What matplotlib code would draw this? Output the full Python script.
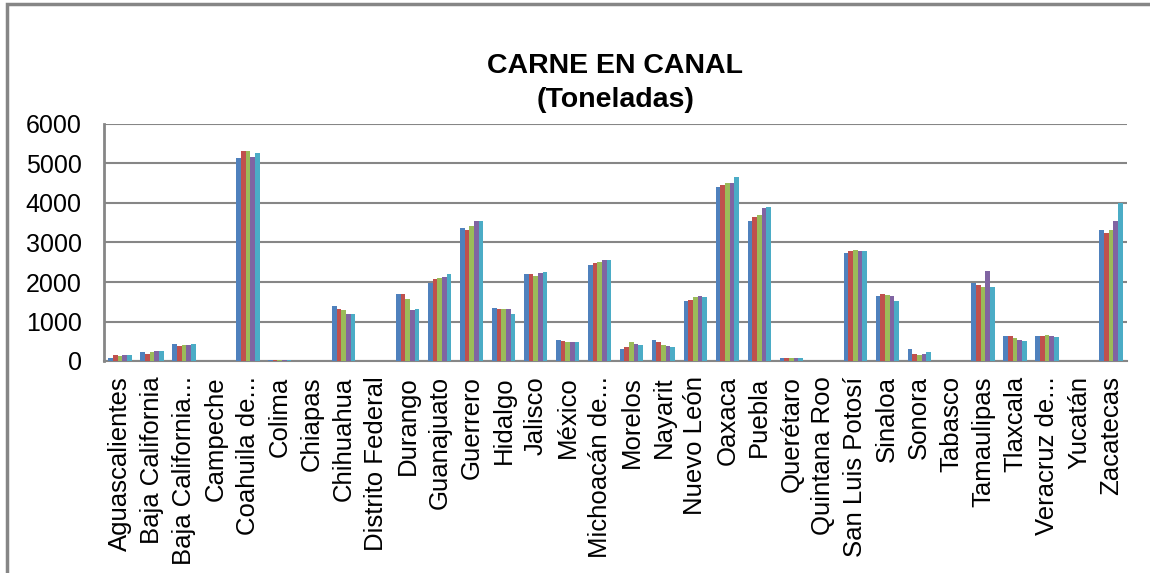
import matplotlib
matplotlib.use("Agg")
import matplotlib.pyplot as plt
import numpy as np

plt.rcParams["font.family"] = ["Liberation Sans", "DejaVu Sans"]

estados = [
    "Aguascalientes", "Baja California", "Baja California...", "Campeche",
    "Coahuila de...", "Colima", "Chiapas", "Chihuahua", "Distrito Federal",
    "Durango", "Guanajuato", "Guerrero", "Hidalgo", "Jalisco", "México",
    "Michoacán de...", "Morelos", "Nayarit", "Nuevo León", "Oaxaca", "Puebla",
    "Querétaro", "Quintana Roo", "San Luis Potosí", "Sinaloa", "Sonora",
    "Tabasco", "Tamaulipas", "Tlaxcala", "Veracruz de...", "Yucatán", "Zacatecas",
]

# five series (one per year)
serie1 = [70, 220, 425, 0, 5140, 20, 0, 1390, 0, 1690, 1970, 3365, 1335, 2200, 525,
          2425, 295, 525, 1515, 4405, 3540, 70, 0, 2730, 1640, 295, 0, 1970, 625, 625, 0, 3315]
serie2 = [145, 170, 370, 0, 5315, 20, 0, 1310, 0, 1690, 2070, 3315, 1310, 2200, 500,
          2475, 345, 475, 1540, 4455, 3645, 70, 0, 2780, 1690, 170, 0, 1920, 625, 625, 0, 3240]
serie3 = [120, 220, 395, 0, 5315, 20, 0, 1285, 0, 1565, 2095, 3415, 1310, 2150, 475,
          2500, 475, 395, 1615, 4505, 3695, 70, 0, 2805, 1665, 145, 0, 1870, 575, 650, 0, 3315]
serie4 = [145, 245, 395, 0, 5165, 20, 0, 1185, 0, 1285, 2120, 3540, 1310, 2225, 475,
          2555, 420, 370, 1640, 4505, 3870, 70, 0, 2780, 1640, 170, 0, 2275, 525, 625, 0, 3540]
serie5 = [145, 245, 425, 0, 5265, 20, 0, 1185, 0, 1310, 2200, 3540, 1185, 2250, 475,
          2555, 395, 345, 1615, 4660, 3895, 70, 0, 2780, 1515, 220, 0, 1870, 500, 600, 0, 3990]

series = [serie1, serie2, serie3, serie4, serie5]
colores = ["#4F81BD", "#C0504D", "#9BBB59", "#8064A2", "#4BACC6"]

fig = plt.figure(figsize=(11.5, 5.73), dpi=100)
ax = fig.add_axes([104 / 1150, 1 - 361 / 573, (1127 - 104) / 1150, (361 - 124) / 573])

x = np.arange(len(estados))
grupo = 0.73
ancho = grupo / len(series)
for i, (vals, c) in enumerate(zip(series, colores)):
    ax.bar(x - grupo / 2 + ancho * (i + 0.5), vals, width=ancho, color=c, zorder=3)

ax.set_xlim(-0.5, len(estados) - 0.5)
ax.set_ylim(0, 6000)
ax.set_yticks(range(0, 6001, 1000))
ax.yaxis.grid(True, color="#868686", linewidth=1.5, zorder=0)
ax.set_xticks(x)
ax.set_xticklabels(estados, rotation=90, fontsize=18.5)
ax.tick_params(axis="y", length=0, pad=16, labelsize=18)
ax.tick_params(axis="x", length=0, pad=11)

for s in ["top", "right"]:
    ax.spines[s].set_visible(False)
ax.spines["left"].set_color("#868686")
ax.spines["left"].set_linewidth(2)
ax.spines["bottom"].set_color("#868686")
ax.spines["bottom"].set_linewidth(1.5)

fig.text(0.535, 1 - 66 / 573, "CARNE EN CANAL", ha="center", va="center",
         fontsize=20.5, fontweight="bold")
fig.text(0.535, 1 - 100 / 573, "(Toneladas)", ha="center", va="center",
         fontsize=20.5, fontweight="bold")

# outer chart border
borde = plt.Rectangle((7 / 1150, -0.05), 1.1, 1 - 4 / 573 + 0.05, transform=fig.transFigure,
                      fill=False, edgecolor="#868686", linewidth=2.5)
fig.patches.append(borde)

fig.savefig("out.png", dpi=100)
plt.close(fig)
